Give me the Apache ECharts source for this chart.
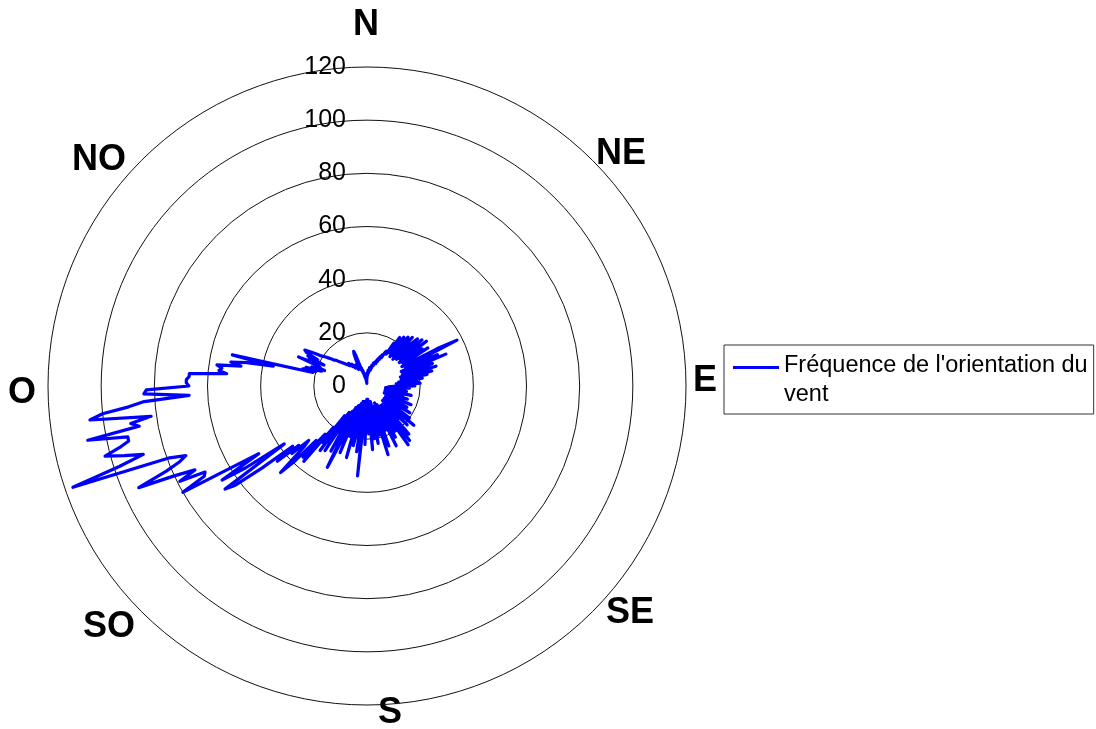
<!DOCTYPE html>
<html>
<head>
<meta charset="utf-8">
<script src="https://cdn.jsdelivr.net/npm/echarts@6/dist/echarts.min.js"></script>
<style>
html,body{margin:0;padding:0;background:#fff;}
#chart{width:1096px;height:729px;}
</style>
</head>
<body>
<div id="chart"></div>
<script>
// ---- data ----
const compassLabels = ['N', 'NE', 'E', 'SE', 'S', 'SO', 'O', 'NO'];
const radiusTicks = [0, 20, 40, 60, 80, 100, 120];
const legendLines = ["Fréquence de l'orientation du", "vent"];
const seriesName = "Fréquence de l'orientation du vent";

// wind direction bins (degrees, clockwise from North)
const directions = Array.from({ length: 360 }, (_, i) => i);

// frequency per 1° bin, by quadrant
const freqNE = [
  3, 4, 5, 4, 6, 5, 6, 5, 7, 6,
  6, 7, 6, 8, 7, 8, 9, 8, 9, 9,
  10, 9, 11, 10, 12, 11, 13, 12, 14, 15,
  16, 14, 19, 15, 22, 16, 15, 23, 14, 17,
  24, 15, 18, 25, 14, 16, 22, 26, 15, 18,
  27, 16, 19, 28, 15, 18, 25, 16, 27, 17,
  19, 15, 30, 38, 16, 18, 29, 14, 32, 17,
  15, 26, 14, 17, 27, 13, 15, 25, 14, 23,
  13, 16, 21, 12, 14, 19, 11, 20, 13, 12
];
const freqSE = [
  18, 10, 8, 16, 9, 7, 13, 8, 15, 9,
  7, 10, 17, 8, 9, 14, 7, 10, 16, 8,
  9, 12, 7, 18, 10, 8, 14, 9, 17, 10,
  8, 12, 19, 9, 10, 15, 8, 20, 11, 9,
  23, 10, 12, 8, 21, 11, 9, 17, 10, 24,
  11, 9, 26, 10, 13, 27, 9, 11, 20, 10,
  12, 22, 8, 10, 25, 9, 7, 18, 10, 8,
  24, 9, 11, 27, 8, 10, 19, 8, 6, 22,
  9, 6, 20, 8, 10, 24, 7, 5, 18, 7
];
const freqSW = [
  6, 5, 22, 8, 6, 10, 34, 7, 6, 25,
  8, 6, 16, 23, 6, 8, 28, 9, 7, 20,
  9, 12, 27, 8, 10, 24, 34, 9, 11, 28,
  11, 16, 13, 29, 12, 15, 30, 14, 27, 20,
  37, 24, 36, 28, 40, 46, 33, 30, 38, 34,
  44, 36, 50, 62, 66, 38, 55, 65, 48, 60,
  80, 70, 69, 79, 72, 80, 94, 82, 76, 73,
  79, 117, 98, 88, 95, 102, 96, 92, 92, 107,
  87, 90, 82, 105, 100, 90, 84, 67, 84, 83
];
const freqNW = [
  67, 68, 68, 67, 67, 53, 56, 55, 57, 48,
  52, 46, 36, 52, 21, 25, 20, 24, 18, 22,
  17, 21, 19, 28, 20, 24, 18, 25, 21, 26,
  27, 25, 23, 21, 20, 19, 18, 17, 16, 16,
  15, 14, 14, 13, 13, 12, 12, 11, 11, 11,
  10, 11, 10, 10, 9, 10, 9, 9, 8, 9,
  8, 9, 8, 7, 8, 7, 8, 10, 13, 14,
  12, 8, 6, 7, 5, 6, 4, 5, 3, 4,
  3, 4, 2, 3, 2, 2, 1, 2, 2, 3
];

// ---- layout / style ----
const CX = 367, CY = 386, R = 319;
const compassOffsets = [[-1, -361], [254, -232], [338, -5], [263, 227], [23, 327], [-258, 241], [-345, 7], [-268, -226]];

const freq = freqNE.concat(freqSE, freqSW, freqNW);
const lineData = freq.map((v, i) => [v, directions[i]]);
lineData.push([freq[0], 360]); // close the rose

const chart = echarts.init(document.getElementById('chart'), null, { renderer: 'canvas' });

const option = {
  animation: false,
  backgroundColor: '#ffffff',
  polar: { center: [CX, CY], radius: R },
  angleAxis: {
    type: 'value', min: 0, max: 360, interval: 45,
    startAngle: 90, clockwise: true,
    axisLine: { show: false }, axisTick: { show: false },
    axisLabel: { show: false }, splitLine: { show: false }
  },
  radiusAxis: {
    type: 'value', min: radiusTicks[0], max: radiusTicks[radiusTicks.length - 1], interval: 20,
    axisLine: { show: false }, axisTick: { show: false },
    axisLabel: { margin: 21, fontSize: 25, color: '#000', fontFamily: 'Liberation Sans' },
    splitLine: { show: true, lineStyle: { color: '#111', width: 1 } }
  },
  legend: {
    left: 724, top: 345, orient: 'vertical',
    data: [{ name: seriesName, icon: 'path://M0 0H0.01V0.01H0Z M0 15H46V18H0Z M0 57.99H0.01V58H0Z' }],
    itemWidth: 46, itemHeight: 58, itemGap: 0,
    backgroundColor: '#fff', borderColor: '#333', borderWidth: 1, borderRadius: 0,
    padding: [6, 6, 5, 9],
    formatter: () => legendLines.join('\n'),
    textStyle: { fontSize: 23.5, lineHeight: 29, color: '#000', fontFamily: 'Liberation Sans' },
    itemStyle: { color: '#0000ff', borderWidth: 0 }
  },
  graphic: compassLabels.map((t, i) => ({
    type: 'text',
    x: CX + compassOffsets[i][0],
    y: CY + compassOffsets[i][1],
    style: {
      text: t, fill: '#000', align: 'center', verticalAlign: 'middle',
      font: 'bold 36px "Liberation Sans", Arial, sans-serif'
    }
  })),
  series: [{
    name: seriesName,
    type: 'line',
    coordinateSystem: 'polar',
    data: lineData,
    showSymbol: false,
    symbol: 'none',
    smooth: false,
    lineStyle: { color: '#0000ff', width: 3.2, join: 'round' },
    itemStyle: { color: '#0000ff' },
    z: 3
  }]
};
chart.setOption(option);
</script>
</body>
</html>
